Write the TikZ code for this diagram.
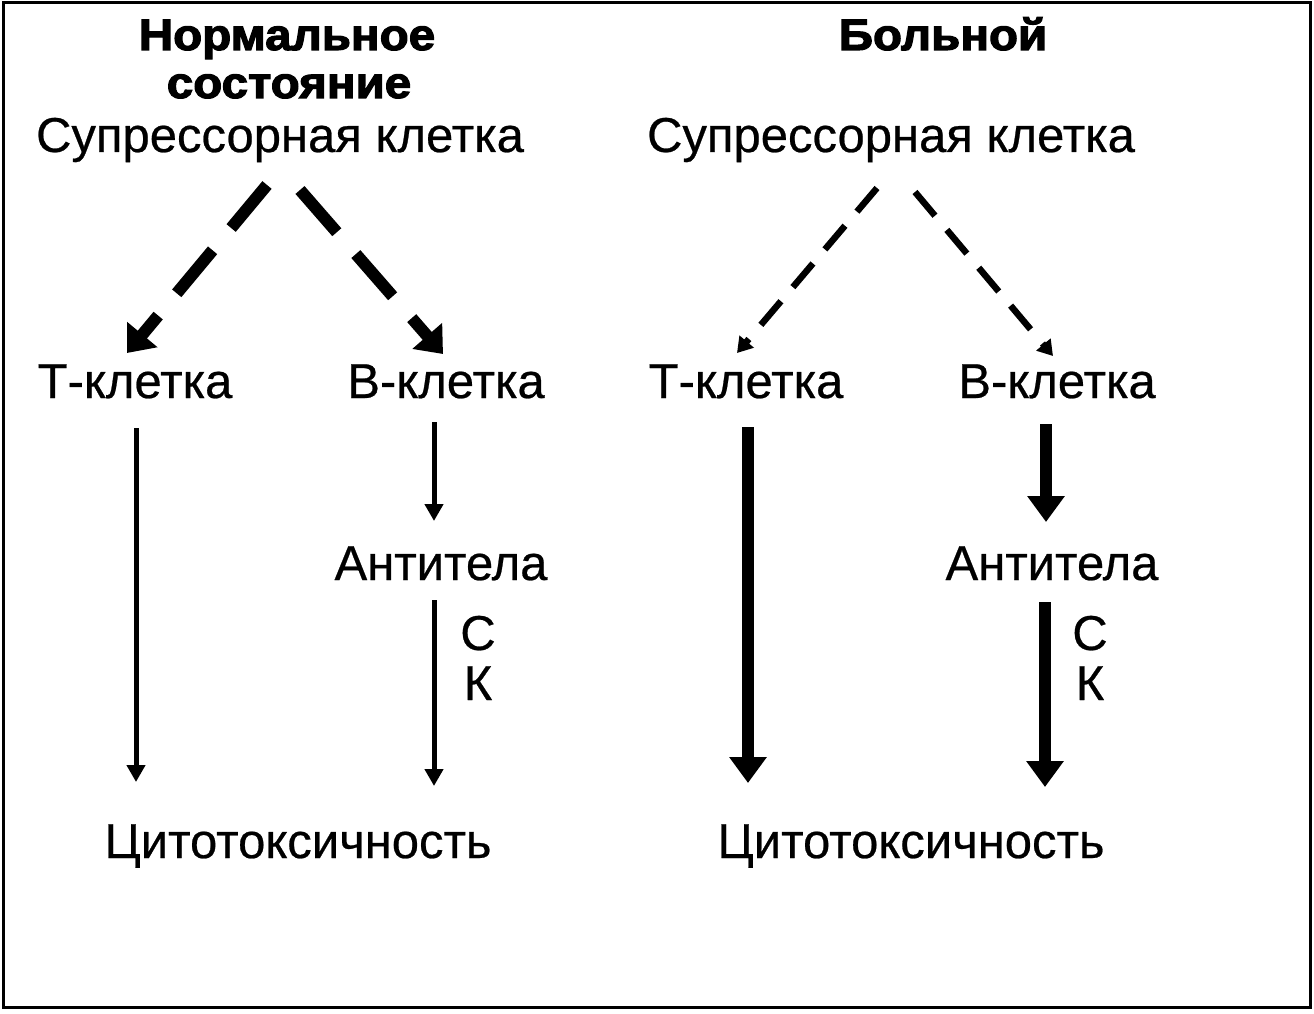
\documentclass[tikz,border=0pt]{standalone}
\usepackage{fontspec}
\setmainfont{Liberation Sans}[FakeBold=0.5]
\newfontfamily\heavyfont[FakeBold=2.5]{Liberation Sans Bold}
\usepackage{graphicx}
\usetikzlibrary{arrows.meta}
\tikzset{
  lbl/.style={anchor=base, inner sep=0pt, font=\fontsize{49}{55}\selectfont},
  ttl/.style={anchor=base, inner sep=0pt, font=\fontsize{44}{48}\heavyfont},
  thickdash/.style={line width=12pt, dash pattern=on 56pt off 29pt, -{Triangle[length=24pt,width=38pt]}},
  thindash/.style={line width=6.5pt, dash pattern=on 31pt off 18.5pt, -{Triangle[length=15pt,width=18pt]}},
  thinarr/.style={line width=5pt, -{Triangle[length=17pt,width=18pt]}},
  fatarr/.style={line width=12pt, -{Triangle[length=26pt,width=36pt]}},
}
\begin{document}
\begin{tikzpicture}[x=1pt,y=-1pt]
\useasboundingbox (0,0) rectangle (1314,1014);
\draw[line width=3pt] (3,3) rectangle (1310,1007);

% ---- left panel: normal
\node[ttl] (h1a) at (287,50) {\scalebox{1.08}[1]{Нормальное}};
\node[ttl] (h1b) at (289,98) {\scalebox{1.08}[1]{состояние}};
\node[lbl] (s1) at (280,152) {Супрессорная клетка};
\node[lbl] (t1) at (135,398) {Т-клетка};
\node[lbl] (b1) at (446,398) {В-клетка};
\node[lbl] (a1) at (441,580) {Антитела};
\node[lbl] (c1) at (478,650) {С};
\node[lbl] (k1) at (478,700) {К};
\node[lbl] (z1) at (298,858) {Цитотоксичность};

\coordinate (s1l) at (267,185);
\coordinate (t1top) at (127,353);
\coordinate (s1r) at (300,190);
\coordinate (b1top) at (443,354);
\coordinate (t1s) at (136,428);
\coordinate (z1t) at (136,782);
\coordinate (b1s) at (434,422);
\coordinate (a1t) at (434,521);
\coordinate (a1s) at (434,600);
\coordinate (z1r) at (434,786);

\draw[thickdash] (s1l) -- (t1top);
\draw[thickdash] (s1r) -- (b1top);
\draw[thinarr] (t1s) -- (z1t);
\draw[thinarr] (b1s) -- (a1t);
\draw[thinarr] (a1s) -- (z1r);

% ---- right panel: patient
\node[ttl] (h2) at (943,50) {\scalebox{1.08}[1]{Больной}};
\node[lbl] (s2) at (891,152) {Супрессорная клетка};
\node[lbl] (t2) at (746,398) {Т-клетка};
\node[lbl] (b2) at (1057,398) {В-клетка};
\node[lbl] (a2) at (1052,580) {Антитела};
\node[lbl] (c2) at (1090,650) {С};
\node[lbl] (k2) at (1090,700) {К};
\node[lbl] (z2) at (911,858) {Цитотоксичность};

\coordinate (s2l) at (877,188);
\coordinate (t2top) at (737,353);
\coordinate (s2r) at (915,192);
\coordinate (b2top) at (1053,356);
\coordinate (t2s) at (748,427);
\coordinate (z2t) at (748,783);
\coordinate (b2s) at (1046,424);
\coordinate (a2t) at (1046,522);
\coordinate (a2s) at (1045,602);
\coordinate (z2r) at (1045,787);

\draw[thindash] (s2l) -- (t2top);
\draw[thindash] (s2r) -- (b2top);
\draw[fatarr] (t2s) -- (z2t);
\draw[fatarr] (b2s) -- (a2t);
\draw[fatarr] (a2s) -- (z2r);
\end{tikzpicture}
\end{document}
